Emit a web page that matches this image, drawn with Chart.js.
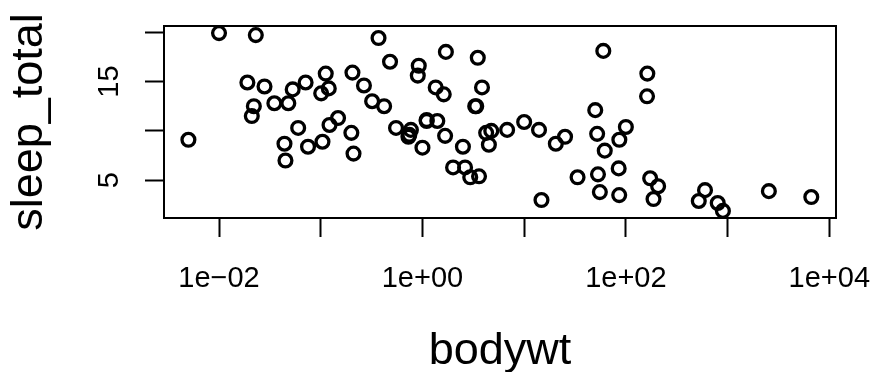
<!DOCTYPE html>
<html>
<head>
<meta charset="utf-8">
<script src="https://cdn.jsdelivr.net/npm/chart.js@4"></script>
<style>
  body { margin: 0; background: white; }
</style>
</head>
<body>
<canvas id="myChart" width="876" height="372"></canvas>
<script>
const bodywt = [
  50, 0.48, 1.35, 0.019, 600, 3.85, 20.49, 0.045, 14, 14.8,
  33.5, 0.728, 4.75, 0.42, 0.06, 1, 0.005, 3.5, 2.95, 1.7,
  2547, 0.023, 521, 187, 0.77, 10, 0.071, 3.3, 0.2, 899.995,
  800, 85, 2.625, 62, 1.67, 6654, 0.37, 6.8, 0.053, 0.12,
  0.035, 0.022, 0.01, 0.266, 1.4, 0.21, 0.028, 2.5, 55.5, 52.2,
  162.564, 100, 161.499, 25.235, 0.55, 1.1, 0.021, 1.62, 86, 53.18,
  1.1, 60, 3.6, 0.32, 0.044, 0.743, 0.075, 0.148, 0.122, 0.92,
  0.101, 0.205, 0.048, 86.25, 4.5, 0.112, 207.501, 0.9, 0.104, 173.33,
  2, 3.38, 4.23,
];
const sleepTotal = [
  12.1, 17.0, 14.4, 14.9, 4.0, 14.4, 8.7, 7.0, 10.1, 3.0,
  5.3, 9.4, 10.0, 12.5, 10.3, 8.3, 9.1, 17.4, 5.3, 18.0,
  3.9, 19.7, 2.9, 3.1, 10.1, 10.9, 14.9, 12.5, 9.8, 1.9,
  2.7, 6.2, 6.3, 8.0, 9.5, 3.3, 19.4, 10.1, 14.2, 14.3,
  12.8, 12.5, 19.9, 14.6, 11.0, 7.7, 14.5, 8.4, 3.8, 9.7,
  15.8, 10.4, 13.5, 9.4, 10.3, 11.0, 11.5, 13.7, 3.5, 5.6,
  11.1, 18.1, 5.4, 13.0, 8.7, 9.6, 8.4, 11.3, 10.6, 16.6,
  13.8, 15.9, 12.8, 9.1, 8.6, 15.8, 4.4, 15.6, 8.9, 5.2,
  6.3, 12.5, 9.8,
];
const xTicks = [0.01, 0.1, 1, 10, 100, 1000, 10000];
const xTickLabels = ["1e\u221202", "", "1e+00", "", "1e+02", "", "1e+04"];
const yTicks = [5, 10, 15, 20];
const yTickLabels = ["5", "", "15", ""];

const FONT = "'Liberation Sans', Arial, sans-serif";

// box round the plot and rotated y tick labels, R style
const rPlot = {
  id: "rPlot",
  afterDraw(chart) {
    const c = chart.ctx;
    const a = chart.chartArea;
    c.save();
    c.strokeStyle = "#000";
    c.lineWidth = 2;
    c.strokeRect(a.left, a.top, a.right - a.left, a.bottom - a.top);
    const y = chart.scales.y;
    c.fillStyle = "#000";
    c.font = "29px " + FONT;
    c.textAlign = "center";
    c.textBaseline = "alphabetic";
    yTicks.forEach((v, i) => {
      if (!yTickLabels[i]) return;
      c.save();
      c.translate(118, y.getPixelForValue(v));
      c.rotate(-Math.PI / 2);
      c.fillText(yTickLabels[i], 0, 0);
      c.restore();
    });
    c.restore();
  },
};

const ctx = document.getElementById("myChart");

const chart = new Chart(ctx, {
  type: "scatter",
  data: {
    datasets: [
      {
        data: bodywt.map((w, i) => ({ x: w, y: sleepTotal[i] })),
        pointStyle: "circle",
        pointRadius: 6.4,
        pointBorderWidth: 3.3,
        pointBorderColor: "#000",
        pointBackgroundColor: "rgba(0,0,0,0)",
        clip: false,
      },
    ],
  },
  options: {
    responsive: false,
    animation: false,
    events: [],
    layout: {
      padding: { top: 26, right: 40, left: 0, bottom: 0 },
    },
    plugins: {
      legend: { display: false },
      tooltip: { enabled: false },
    },
    scales: {
      x: {
        type: "logarithmic",
        min: Math.pow(10, -2.541),
        max: Math.pow(10, 4.066),
        afterBuildTicks: (scale) => {
          scale.ticks = xTicks.map((v) => ({ value: v }));
        },
        afterFit: (scale) => {
          scale.height = 154;
          scale.paddingLeft = 0;
          scale.paddingRight = 0;
        },
        ticks: {
          autoSkip: false,
          maxRotation: 0,
          padding: 25,
          color: "#000",
          font: { family: FONT, size: 29 },
          callback: (v, i) => xTickLabels[i],
        },
        grid: {
          drawOnChartArea: false,
          drawTicks: true,
          tickLength: 19,
          tickWidth: 2,
          tickColor: "#000",
        },
        border: { display: true, color: "#000", width: 2 },
        title: {
          display: true,
          text: "bodywt",
          color: "#000",
          font: { family: FONT, size: 45 },
          padding: { top: 0, bottom: -7 },
        },
      },
      y: {
        min: 1.18,
        max: 20.62,
        afterBuildTicks: (scale) => {
          scale.ticks = yTicks.map((v) => ({ value: v }));
        },
        afterFit: (scale) => {
          scale.width = 164;
          scale.paddingTop = 0;
          scale.paddingBottom = 0;
        },
        ticks: {
          display: false,
        },
        grid: {
          drawOnChartArea: false,
          drawTicks: true,
          tickLength: 19,
          tickWidth: 2,
          tickColor: "#000",
        },
        border: { display: true, color: "#000", width: 2 },
        title: {
          display: true,
          text: "sleep_total",
          color: "#000",
          font: { family: FONT, size: 45 },
          padding: { top: 3, bottom: 0 },
        },
      },
    },
  },
  plugins: [rPlot],
});
</script>
</body>
</html>
